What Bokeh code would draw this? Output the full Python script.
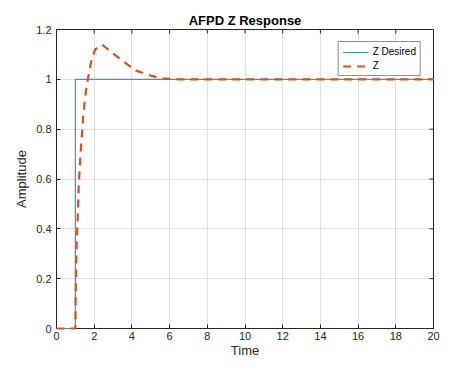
import math
from bokeh.plotting import figure
from bokeh.models import FixedTicker, Legend, LegendItem, Range1d
from bokeh.embed import file_html
from bokeh.resources import INLINE

# ---- data ----
t_desired = [0, 1, 1, 20]
z_desired = [0, 0, 1, 1]

t_z = [0, 1.0, 1.03, 1.06, 1.13, 1.18, 1.28, 1.40, 1.52, 1.66, 1.83, 2.05, 2.43,
       2.94, 3.62, 4.22, 5.0, 5.6, 6.5, 8.0, 20.0]
z_z = [0, 0, 0.19, 0.32, 0.45, 0.575, 0.705, 0.835, 0.93, 1.0, 1.068, 1.12, 1.139,
       1.107, 1.068, 1.035, 1.015, 1.003, 1.0, 1.0, 1.0]

x_ticks = [0, 2, 4, 6, 8, 10, 12, 14, 16, 18, 20]
x_tick_labels = ["0", "2", "4", "6", "8", "10", "12", "14", "16", "18", "20"]
y_ticks = [0, 0.2, 0.4, 0.6, 0.8, 1.0, 1.2]
y_tick_labels = ["0", "0.2", "0.4", "0.6", "0.8", "1", "1.2"]

title_text = "AFPD Z Response"
x_label = "Time"
y_label = "Amplitude"
series_names = ["Z Desired", "Z"]

# ---- style ----
FONT = "Liberation Sans"
DARK = "#262626"
BLUE = "#3a95cf"
ORANGE = "#D95319"

x0, x1 = x_ticks[0], x_ticks[-1]
y0, y1 = y_ticks[0], y_ticks[-1]

p = figure(width=440, height=360, output_backend="svg", toolbar_location=None,
           x_range=Range1d(x0, x1), y_range=Range1d(y0, y1),
           min_border_left=56, min_border_top=29, min_border_right=7,
           min_border_bottom=28)

p.title.text = title_text
p.title.align = "center"
p.title.text_font = FONT
p.title.text_font_size = "13px"
p.title.text_font_style = "bold"
p.title.text_color = "#000000"
p.title.standoff = 3

p.outline_line_color = DARK
p.outline_line_width = 1
p.background_fill_color = "white"
p.border_fill_color = "white"

for ax, ticks, labels in ((p.xaxis[0], x_ticks, x_tick_labels),
                          (p.yaxis[0], y_ticks, y_tick_labels)):
    ax.ticker = FixedTicker(ticks=ticks)
    ax.major_label_overrides = {tk: lb for tk, lb in zip(ticks, labels)}
    ax.major_tick_in = 4
    ax.major_tick_out = 0
    ax.minor_tick_in = 0
    ax.minor_tick_out = 0
    ax.axis_line_color = DARK
    ax.major_tick_line_color = DARK
    ax.major_label_text_font = FONT
    ax.major_label_text_font_size = "11px"
    ax.major_label_text_color = DARK
    ax.axis_label_text_font = FONT
    ax.axis_label_text_font_size = "13px"
    ax.axis_label_text_font_style = "normal"
    ax.axis_label_text_color = DARK

p.xaxis.axis_label = x_label
p.yaxis.axis_label = y_label
p.xaxis.major_label_standoff = 3
p.yaxis.major_label_standoff = 5
p.xaxis.axis_label_standoff = 0
p.yaxis.axis_label_standoff = 4

p.xgrid.ticker = FixedTicker(ticks=x_ticks)
p.ygrid.ticker = FixedTicker(ticks=y_ticks)
p.grid.grid_line_color = DARK
p.grid.grid_line_alpha = 0.15

# inward ticks on top and right edges of the box
p.ray(x=x_ticks, y=[y1] * len(x_ticks), length=4, angle=-math.pi / 2,
      length_units="screen", line_color=DARK, line_width=1)
p.ray(x=[x1] * len(y_ticks), y=y_ticks, length=4, angle=math.pi,
      length_units="screen", line_color=DARK, line_width=1)

r1 = p.line(t_desired, z_desired, line_color=BLUE, line_width=1.2, level="overlay")
r2 = p.line(t_z, z_z, line_color=ORANGE, line_width=2.2, line_dash="8 6",
            level="overlay")

legend = Legend(items=[LegendItem(label=series_names[0], renderers=[r1]),
                       LegendItem(label=series_names[1], renderers=[r2])],
                location="top_right")
legend.label_text_font = FONT
legend.label_text_font_size = "10px"
legend.label_text_color = "#000000"
legend.border_line_color = DARK
legend.border_line_width = 1
legend.background_fill_color = "white"
legend.background_fill_alpha = 1
legend.glyph_width = 26
legend.glyph_height = 10
legend.label_height = 10
legend.label_standoff = 4
legend.padding = 4
legend.spacing = 3
legend.margin = 12
p.add_layout(legend, "center")

open("out.html", "w").write(file_html(p, INLINE))
